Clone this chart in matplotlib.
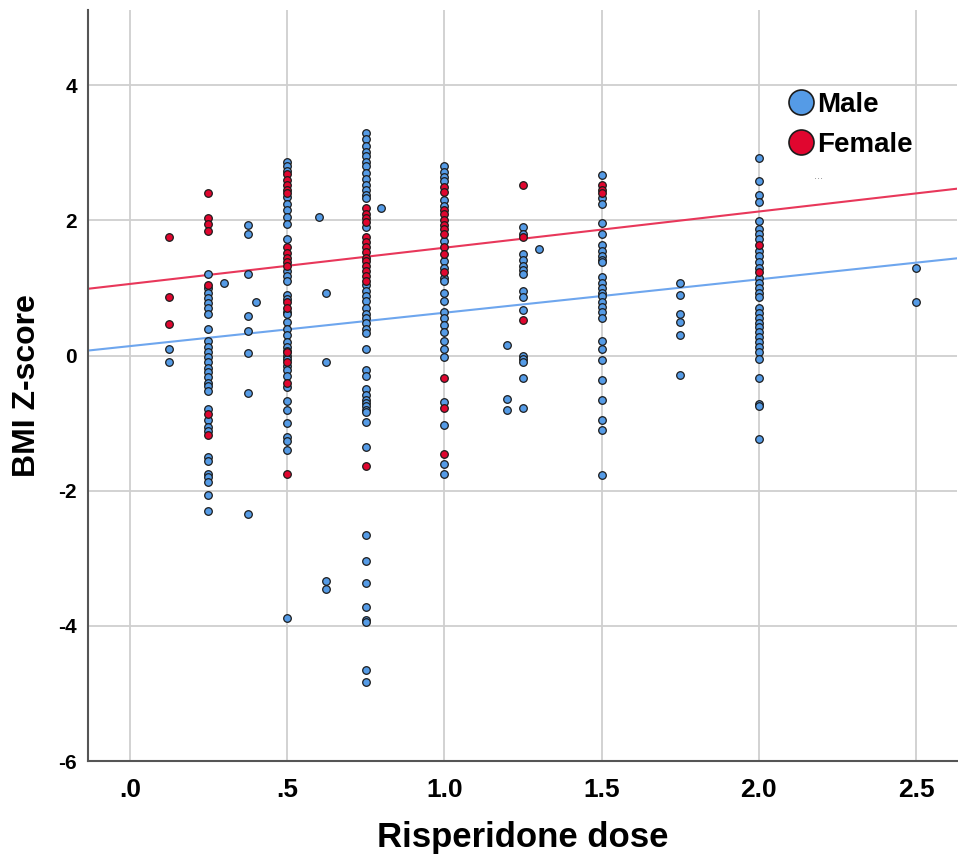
"""
BMI Z-score vs risperidone dose, by sex, with linear fits
"""
import numpy as np
import matplotlib
matplotlib.use('Agg')
import matplotlib.pyplot as plt
from matplotlib.lines import Line2D

plt.rcParams['font.family'] = ['Liberation Sans', 'DejaVu Sans']

# ---- data (dose, BMI z-score) ----
female_0125 = [1.75, 0.86, 0.47]
female_025 = [2.4, 2.04, 1.95, 1.85, 1.05, -0.87, -1.17]
female_050 = [2.68, 2.6, 2.52, 2.45, 2.41, 1.6, 1.52, 1.45, 1.38, 1.32,
              0.79, 0.7, 0.05, -0.1, -0.41, -1.75]
female_075 = [2.18, 2.1, 2.03, 1.97, 1.75, 1.68, 1.6, 1.53, 1.45, 1.4,
              1.32, 1.25, 1.18, 1.11, -1.63]
female_100 = [2.49, 2.42, 2.15, 2.1, 2.0, 1.93, 1.87, 1.8, 1.6, 1.5, 1.23,
              -0.33, -0.78, -1.45]
female_125 = [2.52, 1.75, 0.53]
female_150 = [2.52, 2.45, 2.4]
female_200 = [1.64, 1.24]

male_0125 = [0.1, -0.1]
male_025 = [1.21, 1.0, 0.93, 0.85, 0.78, 0.7, 0.62, 0.4, 0.22, 0.12, 0.05,
            -0.02, -0.1, -0.18, -0.25, -0.32, -0.4, -0.45, -0.52, -0.79,
            -0.95, -1.05, -1.12, -1.5, -1.56, -1.75, -1.8, -1.87, -2.06, -2.3]
male_030 = [1.07]
male_0375 = [1.93, 1.8, 1.21, 0.58, 0.36, 0.04, -0.56, -2.34]
male_040 = [0.8]
male_050 = [2.87, 2.8, 2.73, 2.34, 2.25, 2.15, 2.05, 1.95, 1.73, 1.25, 1.18,
            1.1, 0.89, 0.84, 0.65, 0.62, 0.49, 0.4, 0.3, 0.2, 0.12, 0.07,
            0.0, -0.05, -0.15, -0.22, -0.3, -0.47, -0.67, -0.81, -1.0,
            -1.21, -1.26, -1.39, -3.88]
male_060 = [2.05]
male_0625 = [0.93, -0.09, -3.33, -3.45]
male_075 = [3.29, 3.2, 3.1, 3.02, 2.95, 2.87, 2.8, 2.7, 2.62, 2.52, 2.45,
            2.38, 2.33, 1.9, 1.04, 0.95, 0.88, 0.81, 0.71, 0.62, 0.55, 0.48,
            0.4, 0.33, 0.1, -0.22, -0.3, -0.49, -0.59, -0.65, -0.7, -0.75,
            -0.8, -0.84, -0.98, -1.36, -2.65, -3.04, -3.36, -3.72, -3.91,
            -3.94, -4.65, -4.83]
male_080 = [2.18]
male_100 = [2.8, 2.72, 2.65, 2.58, 2.3, 2.22, 1.7, 1.4, 1.3, 1.15, 1.1, 0.93,
            0.81, 0.65, 0.55, 0.45, 0.35, 0.22, 0.1, -0.02, -0.68, -1.02,
            -1.6, -1.75]
male_120 = [0.15, -0.64, -0.81]
male_125 = [1.91, 1.8, 1.5, 1.42, 1.33, 1.27, 1.2, 0.96, 0.86, 0.67, 0.0,
            -0.05, -0.1, -0.33, -0.77]
male_130 = [1.57]
male_150 = [2.67, 2.33, 2.25, 1.96, 1.8, 1.63, 1.55, 1.48, 1.42, 1.38, 1.16,
            1.08, 1.0, 0.93, 0.88, 0.8, 0.72, 0.64, 0.56, 0.21, 0.09, -0.06,
            -0.36, -0.65, -0.95, -1.1, -1.76]
male_175 = [1.08, 0.89, 0.62, 0.5, 0.3, -0.29]
male_200 = [2.92, 2.58, 2.38, 2.27, 1.99, 1.88, 1.8, 1.72, 1.55, 1.48, 1.38,
            1.3, 1.15, 1.08, 1.0, 0.92, 0.86, 0.71, 0.63, 0.55, 0.48, 0.42,
            0.35, 0.28, 0.2, 0.12, 0.05, -0.05, -0.33, -0.71, -0.74, -1.23]
male_250 = [1.29, 0.8]

female_cols = [(0.125, female_0125), (0.25, female_025), (0.5, female_050),
               (0.75, female_075), (1.0, female_100), (1.25, female_125),
               (1.5, female_150), (2.0, female_200)]
male_cols = [(0.125, male_0125), (0.25, male_025), (0.3, male_030),
             (0.375, male_0375), (0.4, male_040), (0.5, male_050),
             (0.6, male_060), (0.625, male_0625), (0.75, male_075),
             (0.8, male_080), (1.0, male_100), (1.2, male_120),
             (1.25, male_125), (1.3, male_130), (1.5, male_150),
             (1.75, male_175), (2.0, male_200), (2.5, male_250)]

# fit lines (intercept, slope)
female_fit = (1.06, 0.536)
male_fit = (0.14, 0.494)

x_ticks = [0.0, 0.5, 1.0, 1.5, 2.0, 2.5]
x_labels = ['.0', '.5', '1.0', '1.5', '2.0', '2.5']
y_ticks = [-6, -4, -2, 0, 2, 4]

blue = '#559be6'
red = '#e0062f'


def flatten(cols):
    xs, ys = [], []
    for d, vals in cols:
        xs += [d] * len(vals)
        ys += vals
    return np.array(xs), np.array(ys)


fig = plt.figure(figsize=(9.58, 8.57), dpi=100)
ax = fig.add_axes([0.0919, 0.112, 0.907, 0.876])

xlim = (-0.133, 2.63)
ax.set_xlim(xlim)
ax.set_ylim(-6, 5.11)

# grid
ax.set_xticks(x_ticks)
ax.set_yticks(y_ticks)
ax.grid(True, color='#cfcfcf', linewidth=1.3)
ax.set_axisbelow(True)

# fit lines
xx = np.array(xlim)
ax.plot(xx, male_fit[0] + male_fit[1] * xx, color='#6ea6ee', linewidth=1.5, zorder=2)
ax.plot(xx, female_fit[0] + female_fit[1] * xx, color='#e8375a', linewidth=1.5, zorder=2)

mx, my = flatten(male_cols)
fx, fy = flatten(female_cols)
ax.scatter(mx, my, s=30, color=blue, edgecolors='#1c1c1c', linewidths=0.9, zorder=3)
ax.scatter(fx, fy, s=30, color=red, edgecolors='#1c1c1c', linewidths=0.9, zorder=4)

# spines
for side in ['top', 'right']:
    ax.spines[side].set_visible(False)
ax.spines['left'].set_color('#555555')
ax.spines['bottom'].set_color('#555555')
ax.spines['left'].set_linewidth(1.5)
ax.spines['bottom'].set_linewidth(1.5)

ax.tick_params(length=0, pad=8)
ax.set_xticklabels(x_labels, fontsize=19, fontweight='bold')
ax.set_yticklabels([str(v) for v in y_ticks], fontsize=15, fontweight='bold')
ax.xaxis.set_tick_params(pad=12)

ax.set_xlabel('Risperidone dose', fontsize=25, fontweight='bold', labelpad=14)
ax.set_ylabel('BMI Z-score', fontsize=23, fontweight='bold', labelpad=12)

# legend
handles = [Line2D([], [], marker='o', linestyle='none', markersize=18,
                  markerfacecolor=blue, markeredgecolor='#1c1c1c', markeredgewidth=1.2),
           Line2D([], [], marker='o', linestyle='none', markersize=18,
                  markerfacecolor=red, markeredgecolor='#1c1c1c', markeredgewidth=1.2)]
leg = ax.legend(handles, ['Male', 'Female'], loc='upper left',
                bbox_to_anchor=(0.785, 0.91), frameon=False,
                handletextpad=0.0, handlelength=1.2, borderpad=0,
                labelspacing=0.5, prop={'size': 20, 'weight': 'bold'})
ax.text(0.836, 0.775, '...', transform=ax.transAxes, fontsize=8, color='#888888')

plt.savefig('out.png', dpi=100)
plt.close()
